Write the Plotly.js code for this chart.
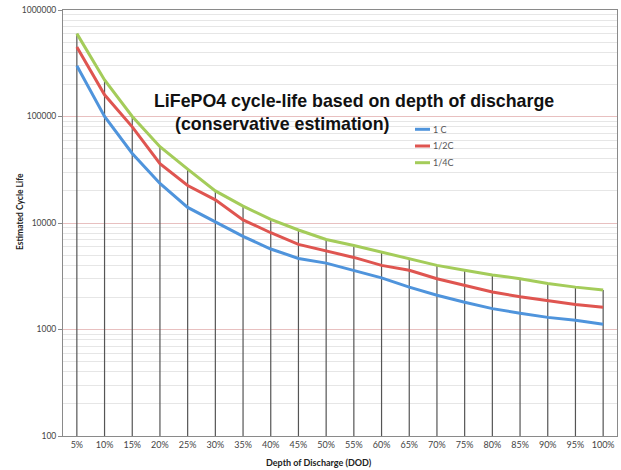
<!DOCTYPE html>
<html>
<head>
<meta charset="utf-8">
<script src="https://cdn.plot.ly/plotly-3.0.1.min.js"></script>
<style>html,body{margin:0;padding:0;background:#fff;}#chart{width:621px;height:470px;}</style>
</head>
<body>
<div id="chart"></div>
<script>
const categories = ["5%","10%","15%","20%","25%","30%","35%","40%","45%","50%","55%","60%","65%","70%","75%","80%","85%","90%","95%","100%"];
const seriesNames = ["1 C","1/2C","1/4C"];
const rate1C = [300000,100000,45000,23500,14000,10200,7500,5700,4650,4200,3550,3050,2500,2100,1800,1570,1420,1300,1220,1120];
const rateHalfC = [450000,160000,80000,36000,22500,16500,10700,8100,6300,5500,4750,4000,3600,3000,2600,2250,2030,1880,1720,1620];
const rateQuarterC = [600000,220000,100000,52000,32000,20000,14400,10800,8600,7000,6150,5350,4650,4000,3600,3250,3000,2700,2500,2350];
const yAxisMin = 100, yAxisMax = 1000000;
const chartTitle = ["LiFePO4 cycle-life based on depth of discharge","(conservative estimation)"];
const xTitle = "Depth of Discharge (DOD)";
const yTitle = "Estimated Cycle Life";

const colors = ["#4f94dc","#df5550","#a4cc5a"];
const series = [rate1C, rateHalfC, rateQuarterC];

// drop lines from the top series down to the axis floor
const dropX = [], dropY = [];
categories.forEach((c, i) => { dropX.push(c, c, null); dropY.push(yAxisMin, rateQuarterC[i], null); });

const traces = [{
  x: dropX, y: dropY, mode: "lines", type: "scatter",
  line: {color: "#555", width: 1.2}, hoverinfo: "skip", showlegend: false
}];
series.forEach((s, k) => traces.push({
  x: categories, y: s, name: seriesNames[k], type: "scatter", mode: "lines",
  line: {color: colors[k], width: 3, shape: "linear"}, showlegend: false
}));

const lgX = 415, lgY0 = 129.3, lgDy = 16.7;
const shapes = [], annotations = [];
seriesNames.forEach((n, k) => {
  const yy = 1 - (lgY0 + k * lgDy - 10) / 426;
  shapes.push({type: "line", xref: "paper", yref: "paper",
    x0: (lgX - 63) / 554, x1: (lgX + 15 - 63) / 554, y0: yy, y1: yy,
    line: {color: colors[k], width: 3}});
  annotations.push({xref: "paper", yref: "paper", x: (lgX + 16 - 63) / 554, y: yy,
    xanchor: "left", yanchor: "middle", showarrow: false, text: n,
    font: {family: "Lato, DejaVu Sans, sans-serif", size: 9, color: "#555"}});
});
annotations.push({xref: "paper", yref: "paper", x: (152 - 63) / 554, y: 1 - (101 - 10) / 426,
  xanchor: "left", yanchor: "middle", showarrow: false, text: "<b>" + chartTitle[0] + "</b>",
  font: {family: "Liberation Sans, Arial, sans-serif", size: 17.8, color: "#111"}});
annotations.push({xref: "paper", yref: "paper", x: (173 - 63) / 554, y: 1 - (124 - 10) / 426,
  xanchor: "left", yanchor: "middle", showarrow: false, text: "<b>" + chartTitle[1] + "</b>",
  font: {family: "Liberation Sans, Arial, sans-serif", size: 17.8, color: "#111"}});
annotations.push({xref: "paper", yref: "paper", x: (319 - 63) / 554, y: 1 - (463 - 10) / 426,
  xanchor: "center", yanchor: "middle", showarrow: false, text: "<b>" + xTitle + "</b>",
  font: {family: "Lato, DejaVu Sans, sans-serif", size: 9, color: "#222"}});
annotations.push({xref: "paper", yref: "paper", x: (20 - 63) / 554, y: 1 - (211 - 10) / 426,
  xanchor: "center", yanchor: "middle", showarrow: false, textangle: -90, text: "<b>" + yTitle + "</b>",
  font: {family: "Lato, DejaVu Sans, sans-serif", size: 8.5, color: "#222"}});

const layout = {
  width: 621, height: 470,
  margin: {l: 63, r: 4, t: 10, b: 34, pad: 0},
  paper_bgcolor: "#fff", plot_bgcolor: "#fff",
  showlegend: false,
  xaxis: {
    type: "category", range: [-0.5, 19.5], tickmode: "array", tickvals: categories, ticktext: categories,
    tickangle: 0, showgrid: false, zeroline: false, ticks: "",
    showline: true, linecolor: "#8a8a8a", linewidth: 1, mirror: true,
    tickfont: {family: "Lato, DejaVu Sans, sans-serif", size: 9, color: "#444"}
  },
  yaxis: {
    type: "log", range: [Math.log10(yAxisMin), Math.log10(yAxisMax)], tickmode: "linear", tick0: 0, dtick: 1,
    tickformat: "d",
    showgrid: true, gridcolor: "#e8c0c0", gridwidth: 1, zeroline: false,
    ticks: "outside", ticklen: 4, tickcolor: "#8a8a8a",
    showline: true, linecolor: "#8a8a8a", linewidth: 1, mirror: true,
    tickfont: {family: "Lato, DejaVu Sans, sans-serif", size: 8.5, color: "#444"},
    minor: {dtick: "D1", showgrid: true, gridcolor: "#e6e6e6", gridwidth: 1, ticks: ""}
  },
  shapes: shapes,
  annotations: annotations
};

Plotly.newPlot("chart", traces, layout, {staticPlot: true, displayModeBar: false});
</script>
</body>
</html>
